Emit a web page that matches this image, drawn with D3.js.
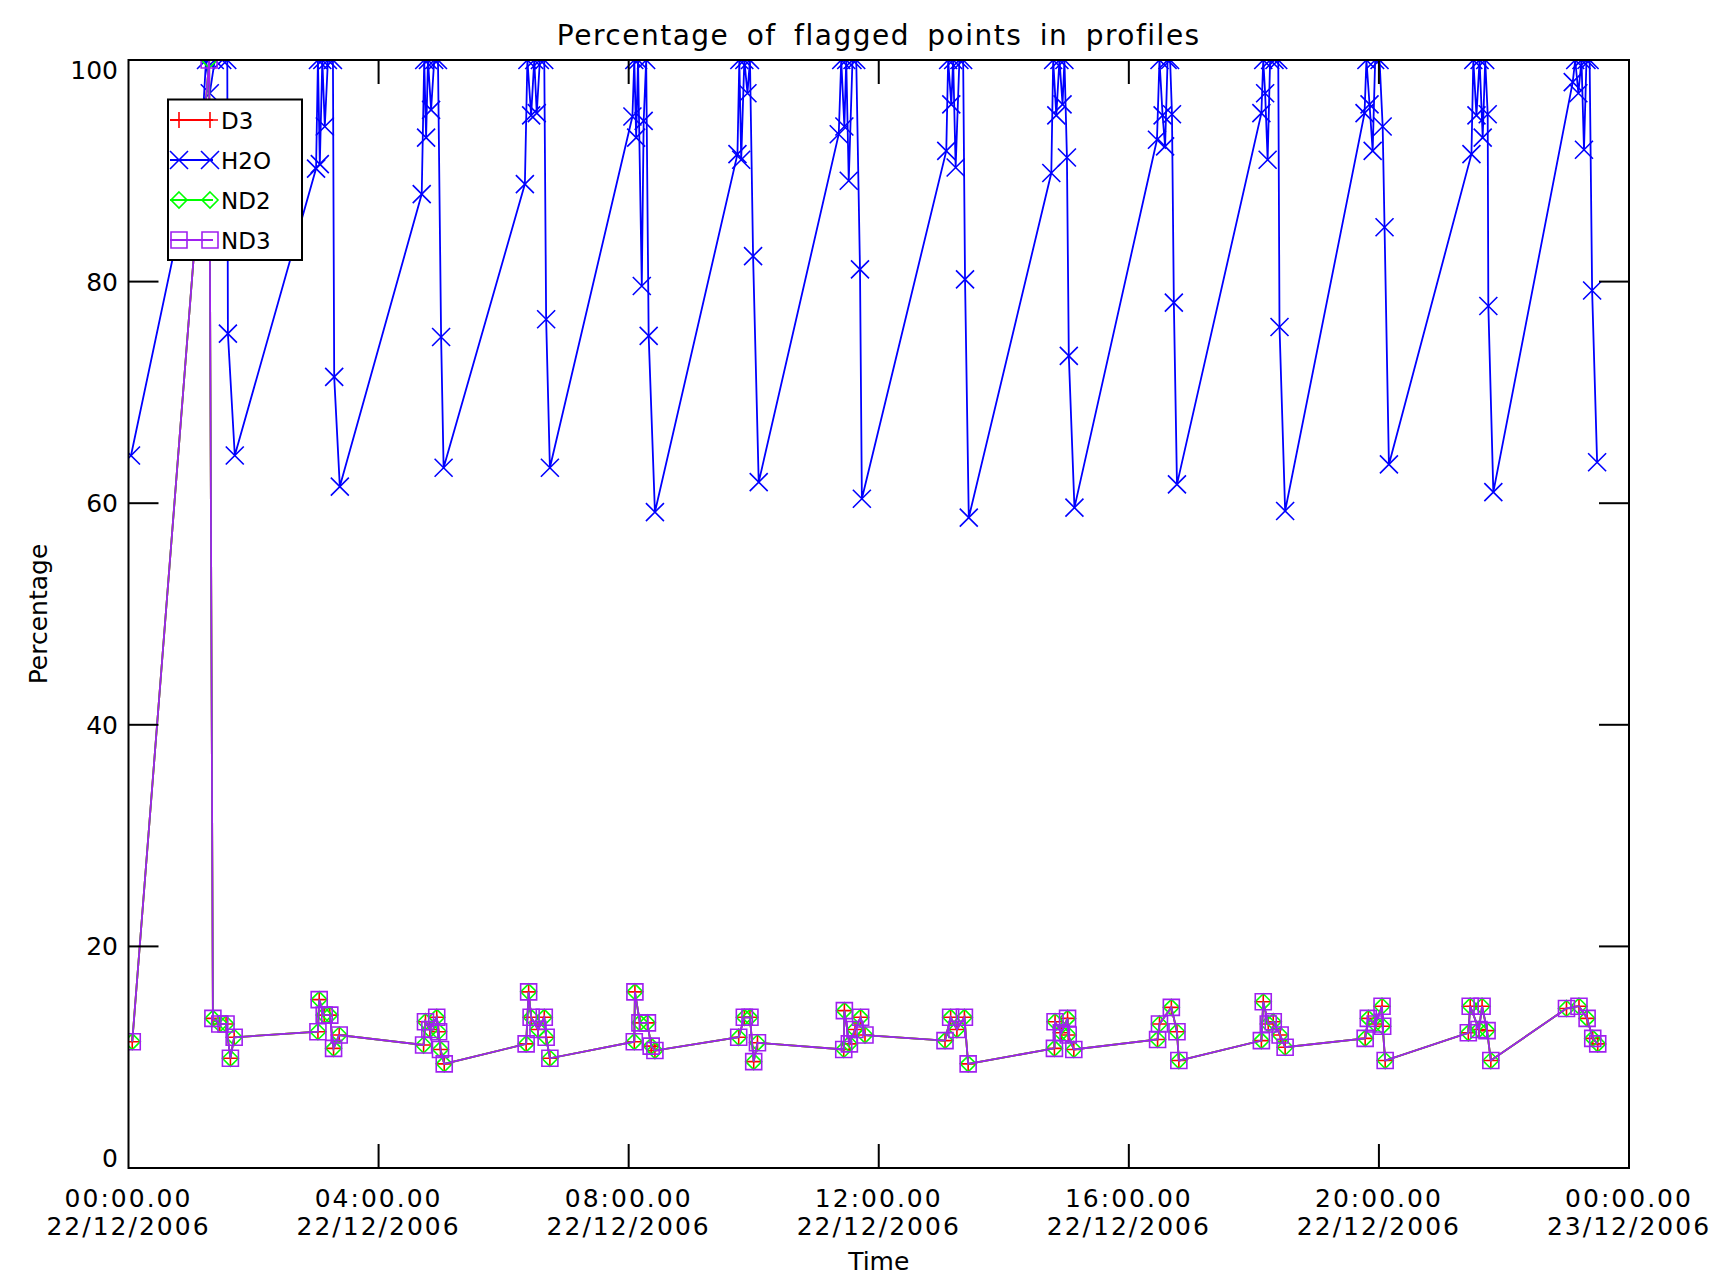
<!DOCTYPE html>
<html>
<head>
<meta charset="utf-8">
<script src="https://cdn.jsdelivr.net/npm/d3@7"></script>
<style>
  body { margin: 0; background: #fff; }
  text { font-family: "DejaVu Sans", sans-serif; fill: #000; }
</style>
</head>
<body>
<div id="chart"></div>
<script>
// time in hours after 00:00 22/12/2006
const h2oHours = [
  0.04, 1.19, 1.24, 1.30, 1.38, 1.50, 1.58, 1.59, 1.70,
  3.00, 3.03, 3.06, 3.10, 3.14, 3.19, 3.27, 3.29, 3.38,
  4.69, 4.73, 4.76, 4.79, 4.84, 4.89, 4.95, 5.00, 5.04,
  6.34, 6.38, 6.44, 6.49, 6.53, 6.58, 6.65, 6.68, 6.74,
  8.06, 8.09, 8.12, 8.15, 8.21, 8.24, 8.28, 8.32, 8.42,
  9.74, 9.77, 9.80, 9.85, 9.90, 9.94, 9.99, 10.08,
  11.36, 11.40, 11.45, 11.48, 11.52, 11.58, 11.64, 11.70, 11.73,
  13.08, 13.11, 13.16, 13.19, 13.23, 13.29, 13.35, 13.38, 13.44,
  14.76, 14.79, 14.84, 14.89, 14.94, 14.97, 15.01, 15.04, 15.13,
  16.45, 16.49, 16.54, 16.58, 16.62, 16.66, 16.69, 16.72, 16.77,
  18.12, 18.15, 18.18, 18.22, 18.26, 18.33, 18.39, 18.41, 18.50,
  19.77, 19.80, 19.85, 19.90, 19.94, 20.01, 20.06, 20.09, 20.16,
  21.48, 21.51, 21.56, 21.61, 21.66, 21.70, 21.74, 21.75, 21.83,
  23.10, 23.14, 23.19, 23.24, 23.28, 23.32, 23.37, 23.41, 23.49
];
const h2oVals = [
  64.3, 95, 100, 97, 100, 100, 100, 75.3, 64.3,
  90.2, 100, 90.6, 100, 94, 100, 100, 71.4, 61.5,
  87.9, 100, 93, 100, 95.5, 100, 100, 75.0, 63.2,
  88.8, 100, 95, 100, 95.2, 100, 100, 76.6, 63.2,
  94.9, 100, 93, 100, 79.6, 94.5, 100, 75.1, 59.2,
  91.5, 100, 91.0, 100, 97, 100, 82.3, 61.9,
  93.3, 100, 94, 100, 89.1, 100, 100, 81.1, 60.4,
  91.8, 100, 96, 100, 90.3, 100, 100, 80.2, 58.7,
  89.8, 100, 95, 100, 96, 100, 91.2, 73.3, 59.6,
  92.8, 100, 95, 92.2, 100, 100, 95.1, 78.1, 61.7,
  95.2, 100, 97, 91.0, 100, 100, 100, 75.9, 59.3,
  95.2, 100, 96, 91.8, 100, 100, 94, 84.9, 63.5,
  91.5, 100, 95, 100, 93, 100, 95.1, 77.8, 61.0,
  98, 100, 97, 100, 91.9, 100, 100, 79.2, 63.7
];

// D3, ND2 and ND3 lie on top of each other in the plot
const lowHours = [
  0.06, 1.29, 1.35, 1.46, 1.56, 1.63, 1.69,
  3.03, 3.05, 3.13, 3.22, 3.28, 3.37,
  4.72, 4.75, 4.82, 4.93, 4.96, 4.99, 5.05,
  6.36, 6.40, 6.44, 6.55, 6.65, 6.68, 6.74,
  8.09, 8.10, 8.18, 8.30, 8.36, 8.42,
  9.76, 9.85, 9.94, 10.00, 10.06,
  11.44, 11.45, 11.53, 11.62, 11.71, 11.78,
  13.06, 13.15, 13.25, 13.37, 13.43,
  14.81, 14.82, 14.92, 15.02, 15.03, 15.12,
  16.46, 16.49, 16.68, 16.77, 16.80,
  18.12, 18.15, 18.23, 18.31, 18.42, 18.50,
  19.78, 19.83, 19.94, 20.05, 20.06, 20.10,
  21.43, 21.46, 21.60, 21.65, 21.73, 21.79,
  23.00, 23.20, 23.33, 23.42, 23.50
];
const lowVals = [
  11.4, 100, 13.5, 13.0, 13.0, 9.9, 11.8,
  12.3, 15.2, 13.8, 13.8, 10.8, 12.0,
  11.1, 13.2, 12.5, 13.6, 12.3, 10.7, 9.4,
  11.2, 15.9, 13.6, 12.5, 13.6, 11.8, 9.9,
  11.4, 15.9, 13.1, 13.1, 11.0, 10.6,
  11.8, 13.6, 13.6, 9.6, 11.3,
  10.7, 14.2, 11.2, 12.5, 13.6, 12.0,
  11.5, 13.6, 12.5, 13.6, 9.4,
  10.8, 13.2, 12.2, 13.5, 12.0, 10.7,
  11.6, 13.0, 14.5, 12.3, 9.7,
  11.5, 15.0, 13.0, 13.2, 12.0, 10.9,
  11.7, 13.5, 13.0, 14.6, 12.8, 9.7,
  12.2, 14.6, 12.5, 14.6, 12.4, 9.7,
  14.4, 14.6, 13.5, 11.7, 11.2
];

const seriesNames = ['D3', 'H2O', 'ND2', 'ND3'];
const yTicks = [0, 20, 40, 60, 80, 100];

const width = 1732, height = 1281;
const margin = { left: 128.5, top: 60, right: 103, bottom: 113 };
const x0 = margin.left, x1 = width - margin.right;
const y0 = height - margin.bottom, y1 = margin.top;

const start = Date.UTC(2006, 11, 22);
const toDate = h => new Date(start + h * 3600e3);

const x = d3.scaleUtc().domain([toDate(0), toDate(24)]).range([x0, x1]);
const y = d3.scaleLinear().domain([0, 100]).range([y0, y1]);

function symbol(kind, s) {
    if (kind === 'plus') return `M${-s},0H${s}M0,${-s}V${s}`;
    if (kind === 'cross') return `M${-s},${-s}L${s},${s}M${-s},${s}L${s},${-s}`;
    if (kind === 'diamond') return `M0,${-s}L${s},0L0,${s}L${-s},0Z`;
    return `M${-s},${-s}H${s}V${s}H${-s}Z`;
}

const pts = (hs, vs) => hs.map((h, i) => ({ t: toDate(h), v: vs[i] }));
const series = [
    { name: seriesNames[0], data: pts(lowHours, lowVals), color: '#ff0000', sym: 'plus', size: 8 },
    { name: seriesNames[1], data: pts(h2oHours, h2oVals), color: '#0000ff', sym: 'cross', size: 9 },
    { name: seriesNames[2], data: pts(lowHours, lowVals), color: '#00ff00', sym: 'diamond', size: 8 },
    { name: seriesNames[3], data: pts(lowHours, lowVals), color: '#a020f0', sym: 'square', size: 8 }
];

const svg = d3.select('#chart').append('svg')
    .attr('width', width)
    .attr('height', height)
    .style('background', '#fff');

svg.append('clipPath').attr('id', 'plot-clip')
    .append('rect')
    .attr('x', x0).attr('y', y1)
    .attr('width', x1 - x0).attr('height', y0 - y1);

const line = d3.line().x(d => x(d.t)).y(d => y(d.v));

const plot = svg.append('g').attr('clip-path', 'url(#plot-clip)');
series.forEach(s => {
    const g = plot.append('g');
    g.append('path').datum(s.data)
        .attr('d', line)
        .attr('fill', 'none')
        .attr('stroke', s.color)
        .attr('stroke-width', 1.8);
    g.selectAll('path.mark').data(s.data)
        .enter()
        .append('path')
        .attr('class', 'mark')
        .attr('transform', d => `translate(${x(d.t)},${y(d.v)})`)
        .attr('d', symbol(s.sym, s.size))
        .attr('fill', 'none')
        .attr('stroke', s.color)
        .attr('stroke-width', 1.6);
});

// frame and ticks on all four sides
const axis = svg.append('g').attr('stroke', '#000').attr('stroke-width', 2);
axis.append('rect')
    .attr('x', x0).attr('y', y1)
    .attr('width', x1 - x0).attr('height', y0 - y1)
    .attr('fill', 'none');

const xTicks = x.ticks(d3.utcHour.every(4));
xTicks.slice(1, -1).forEach(d => {
    axis.append('line').attr('x1', x(d)).attr('x2', x(d)).attr('y1', y0).attr('y2', y0 - 24);
    axis.append('line').attr('x1', x(d)).attr('x2', x(d)).attr('y1', y1).attr('y2', y1 + 24);
});
yTicks.slice(1, -1).forEach(v => {
    axis.append('line').attr('x1', x0).attr('x2', x0 + 30).attr('y1', y(v)).attr('y2', y(v));
    axis.append('line').attr('x1', x1).attr('x2', x1 - 30).attr('y1', y(v)).attr('y2', y(v));
});

const fmtTime = d3.utcFormat('%H:%M.%S');
const fmtDay = d3.utcFormat('%d/%m/%Y');
const xLab = svg.append('g')
    .style('font-size', '25px')
    .style('letter-spacing', '2px')
    .attr('text-anchor', 'middle');
xTicks.forEach(d => {
    const tx = xLab.append('text').attr('x', x(d));
    tx.append('tspan').attr('x', x(d)).attr('y', 1207).text(fmtTime(d));
    tx.append('tspan').attr('x', x(d)).attr('y', 1235).text(fmtDay(d));
});

const yLab = svg.append('g')
    .style('font-size', '25px')
    .attr('text-anchor', 'end');
yTicks.forEach(v => {
    let yy = y(v);
    if (v === 0) yy -= 10;
    if (v === 100) yy += 10;
    yLab.append('text').attr('x', 118).attr('y', yy).attr('dy', '0.36em').text(v);
});

svg.append('text')
    .attr('x', (x0 + x1) / 2).attr('y', 45)
    .attr('text-anchor', 'middle')
    .style('font-size', '28px')
    .style('letter-spacing', '1.5px')
    .style('word-spacing', '7px')
    .text('Percentage of flagged points in profiles');

svg.append('text')
    .attr('x', (x0 + x1) / 2).attr('y', 1270)
    .attr('text-anchor', 'middle')
    .style('font-size', '25px')
    .text('Time');

svg.append('text')
    .attr('transform', `translate(47,${(y0 + y1) / 2}) rotate(-90)`)
    .attr('text-anchor', 'middle')
    .style('font-size', '25px')
    .text('Percentage');

// legend
const legend = svg.append('g');
legend.append('rect')
    .attr('x', 168).attr('y', 99.5)
    .attr('width', 134).attr('height', 160.5)
    .attr('fill', '#fff')
    .attr('stroke', '#000')
    .attr('stroke-width', 2);
series.forEach((s, i) => {
    const ly = 120 + i * 40;
    const row = legend.append('g');
    row.append('line')
        .attr('x1', 170).attr('x2', 213)
        .attr('y1', ly).attr('y2', ly)
        .attr('stroke', s.color).attr('stroke-width', 1.8);
    [179, 210].forEach(mx => {
        row.append('path')
            .attr('transform', `translate(${mx},${ly})`)
            .attr('d', symbol(s.sym, s.size))
            .attr('fill', 'none')
            .attr('stroke', s.color)
            .attr('stroke-width', 1.6);
    });
    row.append('text')
        .attr('x', 221).attr('y', ly + 8.5)
        .style('font-size', '23px')
        .text(s.name);
});
</script>
</body>
</html>
